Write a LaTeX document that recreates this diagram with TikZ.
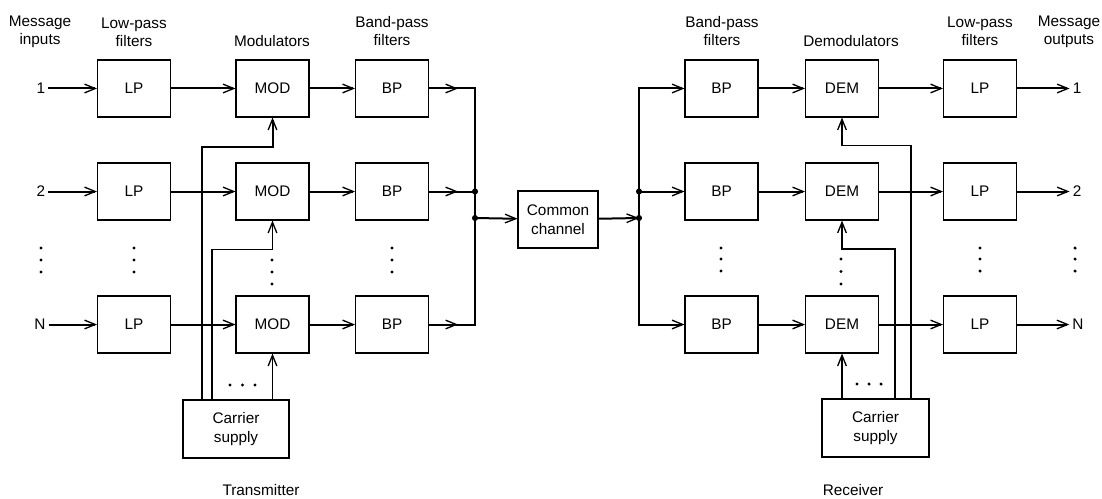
\documentclass[tikz,border=0pt]{standalone}
\usepackage{fontspec}
\setmainfont{Liberation Sans}
\usetikzlibrary{arrows.meta,calc}

\tikzset{every picture/.style={line width=0.75pt}}
\tikzset{
	blk/.style={draw, line width=0.8pt, minimum width=54.75pt, minimum height=42.75pt, inner sep=0pt, align=center, font=\fontsize{11.5}{14}\selectfont},
	lbl/.style={align=center, inner sep=2pt, font=\fontsize{11.5}{13.5}\selectfont},
	sig/.style={line width=1.5pt},
	feed/.style={line width=1.2pt},
	tip/.style={-{Straight Barb[length=8pt,width=6.5pt,line width=1pt]}}}

\begin{document}
\begin{tikzpicture}[x=0.75pt,y=0.75pt,yscale=-1,xscale=1]
	\useasboundingbox (0,0) rectangle (1102,499);

	% Text Node
	\node[lbl] (hin) at (40,32) {Message\\inputs};
	% Text Node
	\node[lbl] (hlp) at (134,32) {Low-pass\\filters};
	% Text Node
	\node[lbl] (hmod) at (272,41) {Modulators};
	% Text Node
	\node[lbl] (hbp) at (392,31) {Band-pass\\filters};
	% Text Node
	\node[lbl] (hrbp) at (722,31) {Band-pass\\filters};
	% Text Node
	\node[lbl] (hdem) at (851,41) {Demodulators};
	% Text Node
	\node[lbl] (hrlp) at (980,31) {Low-pass\\filters};
	% Text Node
	\node[lbl] (hout) at (1069,32) {Message\\outputs};

	% Text Node
	\node[lbl] (in1) at (41,88.5) {1};
	\node[lbl] (in2) at (41,191.5) {2};
	\node[lbl] (inn) at (40,324.5) {N};
	\node[lbl] (out1) at (1077,88.5) {1};
	\node[lbl] (out2) at (1077,191.5) {2};
	\node[lbl] (outn) at (1078,324.5) {N};

	%Shape: Rectangle (transmitter)
	\node[blk] (lp1) at (134,88.5) {LP};
	\node[blk] (lp2) at (134,191.5) {LP};
	\node[blk] (lpn) at (134,324.5) {LP};
	\node[blk] (mod1) at (272.5,88.5) {MOD};
	\node[blk] (mod2) at (272.5,191.5) {MOD};
	\node[blk] (modn) at (272.5,324.5) {MOD};
	\node[blk] (bp1) at (392,88.5) {BP};
	\node[blk] (bp2) at (392,191.5) {BP};
	\node[blk] (bpn) at (392,324.5) {BP};
	\node[blk, minimum width=79.5pt, minimum height=43.5pt] (carT) at (236,429) {Carrier\\supply};

	%Shape: Rectangle (channel)
	\node[blk, minimum width=60pt] (chan) at (558,219.5) {Common\\channel};

	%Shape: Rectangle (receiver)
	\node[blk] (rbp1) at (721.5,88.5) {BP};
	\node[blk] (rbp2) at (721.5,191.5) {BP};
	\node[blk] (rbpn) at (721.5,324.5) {BP};
	\node[blk] (dem1) at (842,88.5) {DEM};
	\node[blk] (dem2) at (842,191.5) {DEM};
	\node[blk] (demn) at (842,324.5) {DEM};
	\node[blk] (rlp1) at (980,88.5) {LP};
	\node[blk] (rlp2) at (980,191.5) {LP};
	\node[blk] (rlpn) at (980,324.5) {LP};
	\node[blk, minimum width=80.25pt, minimum height=43.5pt] (carR) at (875.5,428) {Carrier\\supply};

	% Text Node
	\node[lbl] (tx) at (261,490) {Transmitter};
	\node[lbl] (rx) at (853,490) {Receiver};

	% junctions
	\coordinate (jL2) at (475,191.5);
	\coordinate (jL3) at (475,218);
	\coordinate (jR2) at (639,191.5);
	\coordinate (jR3) at (639,218);

	%Straight Lines (inputs)
	\draw[sig,tip] (in1) -- (lp1);
	\draw[sig,tip] (in2) -- (lp2);
	\draw[sig,tip] (inn) -- (lpn);
	\draw[sig,tip] (lp1) -- (mod1);
	\draw[sig,tip] (lp2) -- (mod2);
	\draw[sig,tip] (lpn) -- (modn);
	\draw[sig,tip] (mod1) -- (bp1);
	\draw[sig,tip] (mod2) -- (bp2);
	\draw[sig,tip] (modn) -- (bpn);

	%Straight Lines (to channel)
	\draw[sig] (bp1) -| (jL2);
	\draw[sig] (bpn) -| (jL2);
	\draw[sig] (bp2) -- (jL2);
	\draw[sig,tip] (bp1.east) -- ++(29,0);
	\draw[sig,tip] (bp2.east) -- ++(29,0);
	\draw[sig,tip] (bpn.east) -- ++(29,0);
	\draw[sig,tip] (jL3) -- (chan);
	\fill (jL2) circle (2.3pt) (jL3) circle (2.3pt);

	%Straight Lines (from channel)
	\draw[sig,tip] (chan) -- (jR3);
	\draw[sig,tip] (jR2) |- (rbp1);
	\draw[sig,tip] (jR2) -- (rbp2);
	\draw[sig,tip] (jR2) |- (rbpn);
	\fill (jR2) circle (2.3pt) (jR3) circle (2.3pt);

	%Straight Lines (outputs)
	\draw[sig,tip] (rbp1) -- (dem1);
	\draw[sig,tip] (rbp2) -- (dem2);
	\draw[sig,tip] (rbpn) -- (demn);
	\draw[sig,tip] (dem1) -- (rlp1);
	\draw[sig,tip] (dem2) -- (rlp2);
	\draw[sig,tip] (demn) -- (rlpn);
	\draw[sig,tip] (rlp1) -- (out1);
	\draw[sig,tip] (rlp2) -- (out2);
	\draw[sig,tip] (rlpn) -- (outn);

	%Straight Lines (carriers)
	\draw[sig,tip] ($(carT.north)+(-34,0)$) |- ($(mod1.south)+(0,29)$) -- (mod1);
	\draw[feed,tip] ($(carT.north)+(-24,0)$) |- ($(mod2.south)+(0,29)$) -- (mod2);
	\draw[feed,tip] (carT.north -| modn) -- (modn);
	\draw[feed,tip] ($(carR.north)+(35.5,0)$) |- ($(dem1.south)+(0,28)$) -- (dem1);
	\draw[sig,tip] ($(carR.north)+(19.5,0)$) |- ($(dem2.south)+(0,28)$) -- (dem2);
	\draw[sig,tip] (carR.north -| demn) -- (demn);

	% dots
	\fill (41,248) circle (1.3pt) (41,260) circle (1.3pt) (41,272) circle (1.3pt);
	\fill (134,248) circle (1.3pt) (134,260) circle (1.3pt) (134,272) circle (1.3pt);
	\fill (272,260) circle (1.3pt) (272,272) circle (1.3pt) (272,284) circle (1.3pt);
	\fill (392,248) circle (1.3pt) (392,260) circle (1.3pt) (392,272) circle (1.3pt);
	\fill (230,385) circle (1.3pt) (242.5,385) circle (1.3pt) (255,385) circle (1.3pt);
	\fill (721,248) circle (1.3pt) (721,259) circle (1.3pt) (721,271) circle (1.3pt);
	\fill (841,259) circle (1.3pt) (841,271.5) circle (1.3pt) (841,284) circle (1.3pt);
	\fill (980,248) circle (1.3pt) (980,259) circle (1.3pt) (980,271) circle (1.3pt);
	\fill (1075,248) circle (1.3pt) (1075,259) circle (1.3pt) (1075,271) circle (1.3pt);
	\fill (857,384) circle (1.3pt) (869,384) circle (1.3pt) (881,384) circle (1.3pt);

\end{tikzpicture}
\end{document}
